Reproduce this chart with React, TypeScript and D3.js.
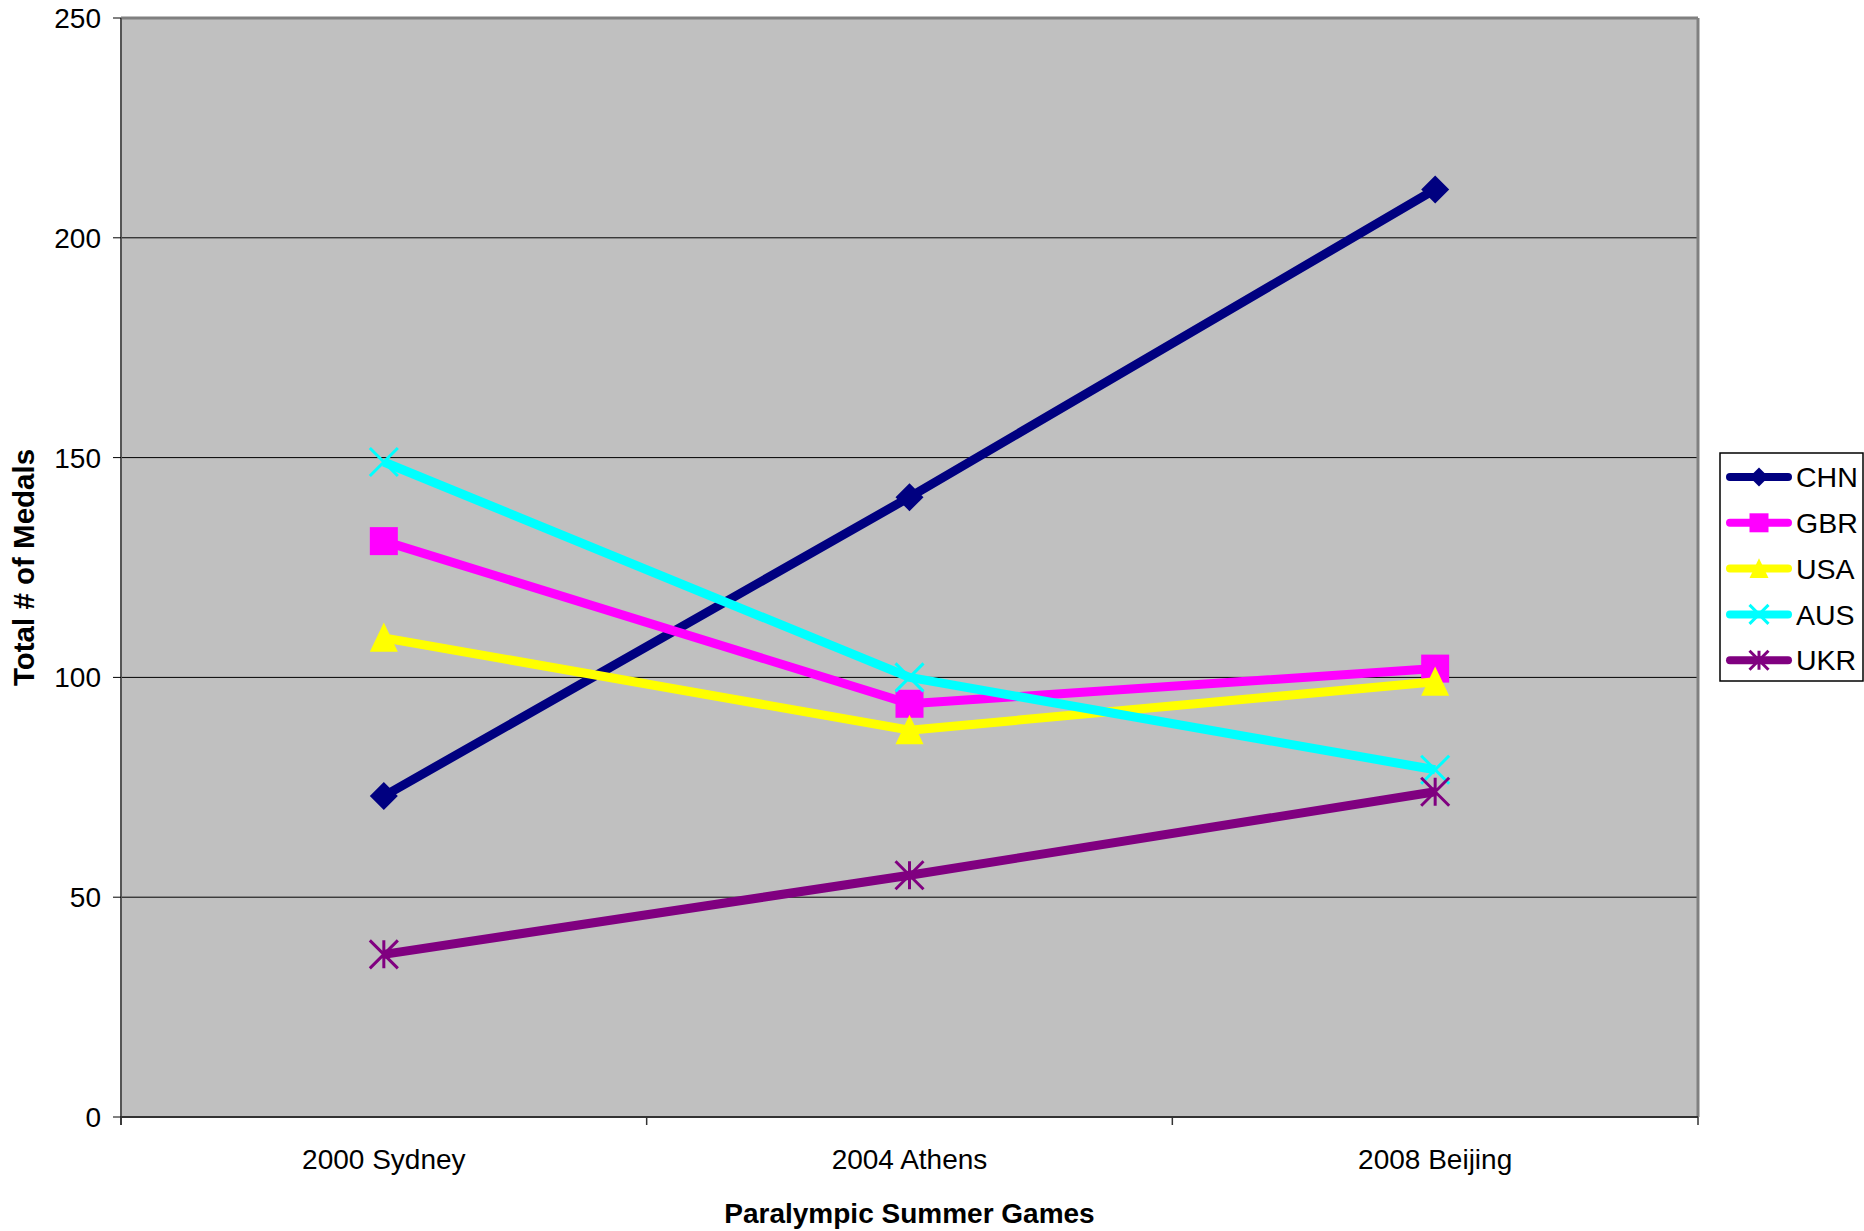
import React from "react";
import * as d3 from "d3";

const categories = ["2000 Sydney", "2004 Athens", "2008 Beijing"];
const seriesNames = ["CHN", "GBR", "USA", "AUS", "UKR"];
const chn = [73, 141, 211];
const gbr = [131, 94, 102];
const usa = [109, 88, 99];
const aus = [149, 100, 79];
const ukr = [37, 55, 74];
const yTicks = [0, 50, 100, 150, 200, 250];

const colors = ["#000080", "#FF00FF", "#FFFF00", "#00FFFF", "#800080"];
const markers = ["diamond", "square", "triangle", "x", "star"];
const seriesValues = [chn, gbr, usa, aus, ukr];

const W = 1864, H = 1231;
const L = 121, R = 1698, T = 18, B = 1117;
const FONT = "'Liberation Sans', Arial, Helvetica, sans-serif";

function markerPath(type: string, cx: number, cy: number, s: number) {
  const h = s / 2;
  const p = d3.path();
  if (type === "diamond") {
    p.moveTo(cx, cy - h); p.lineTo(cx + h, cy); p.lineTo(cx, cy + h); p.lineTo(cx - h, cy); p.closePath();
  } else if (type === "square") {
    p.rect(cx - h, cy - h, s, s);
  } else if (type === "triangle") {
    p.moveTo(cx, cy - h * 1.1); p.lineTo(cx + h, cy + h); p.lineTo(cx - h, cy + h); p.closePath();
  } else if (type === "x") {
    p.moveTo(cx - h, cy - h); p.lineTo(cx + h, cy + h); p.moveTo(cx + h, cy - h); p.lineTo(cx - h, cy + h);
  } else {
    p.moveTo(cx - h, cy - h); p.lineTo(cx + h, cy + h); p.moveTo(cx + h, cy - h); p.lineTo(cx - h, cy + h);
    p.moveTo(cx, cy - h); p.lineTo(cx, cy + h);
  }
  return p.toString();
}

function Marker({ type, cx, cy, s, color }: { type: string; cx: number; cy: number; s: number; color: string }) {
  const stroked = type === "x" || type === "star";
  return stroked ? (
    <path d={markerPath(type, cx, cy, s)} fill="none" stroke={color} strokeWidth={3} />
  ) : (
    <path d={markerPath(type, cx, cy, s)} fill={color} stroke="none" />
  );
}

export default function App() {
  const x = d3.scaleBand<string>().domain(categories).range([L, R]).padding(0);
  const y = d3.scaleLinear().domain([0, 250]).range([B, T]);
  const cx = (c: string) => (x(c) as number) + x.bandwidth() / 2;
  const line = d3
    .line<number>()
    .x((_, i) => cx(categories[i]))
    .y((d) => y(d));
  const xTickPos = [...categories.map((c) => x(c) as number), R];

  const legX = 1720, legY = 453, legW = 143, legH = 228;
  const legStep = 45.8;

  return (
    <svg width={W} height={H} style={{ position: "absolute", left: 0, top: 0, background: "#fff" }} fontFamily={FONT}>
      <rect x={L} y={T} width={R - L} height={B - T} fill="#C0C0C0" />
      {yTicks.filter((t) => t > 0 && t < 250).map((t) => (
        <line key={t} x1={L} x2={R} y1={y(t)} y2={y(t)} stroke="#000" strokeWidth={1} />
      ))}
      {/* plot border */}
      <line x1={L} x2={R} y1={T} y2={T} stroke="#808080" strokeWidth={3} />
      <line x1={R} x2={R} y1={T} y2={B} stroke="#808080" strokeWidth={3} />
      <line x1={L} x2={L} y1={T} y2={B + 8} stroke="#555" strokeWidth={2} />
      <line x1={L} x2={R} y1={B} y2={B} stroke="#333" strokeWidth={2} />
      {yTicks.map((t) => (
        <g key={t}>
          <line x1={L - 8} x2={L} y1={y(t)} y2={y(t)} stroke="#000" strokeWidth={1} />
          <text x={101} y={y(t)} dy="0.36em" textAnchor="end" fontSize={28} fill="#000">{t}</text>
        </g>
      ))}
      {xTickPos.map((p, i) => (
        <line key={i} x1={p} x2={p} y1={B} y2={B + 8} stroke="#333" strokeWidth={1.5} />
      ))}
      {categories.map((c) => (
        <text key={c} x={cx(c)} y={1169} textAnchor="middle" fontSize={28} fill="#000">{c}</text>
      ))}
      <text x={(L + R) / 2} y={1223} textAnchor="middle" fontSize={28} fontWeight="bold" fill="#000">Paralympic Summer Games</text>
      <text transform={`translate(34, ${(T + B) / 2}) rotate(-90)`} textAnchor="middle" fontSize={29.5} fontWeight="bold" fill="#000">Total # of Medals</text>

      {seriesValues.map((vals, si) => (
        <g key={seriesNames[si]}>
          <path d={line(vals) as string} fill="none" stroke={colors[si]} strokeWidth={9} strokeLinejoin="round" />
          {vals.map((v, i) => (
            <Marker key={i} type={markers[si]} cx={cx(categories[i])} cy={y(v)} s={28} color={colors[si]} />
          ))}
        </g>
      ))}

      <rect x={legX} y={legY} width={legW} height={legH} fill="#fff" stroke="#000" strokeWidth={1.5} />
      {seriesNames.map((n, i) => {
        const ly = legY + 24 + i * legStep;
        return (
          <g key={n}>
            <line x1={1730} x2={1788} y1={ly} y2={ly} stroke={colors[i]} strokeWidth={8} strokeLinecap="round" />
            <Marker type={markers[i]} cx={1759} cy={ly} s={19} color={colors[i]} />
            <text x={1796} y={ly} dy="0.36em" fontSize={28.5} fill="#000">{n}</text>
          </g>
        );
      })}
    </svg>
  );
}
